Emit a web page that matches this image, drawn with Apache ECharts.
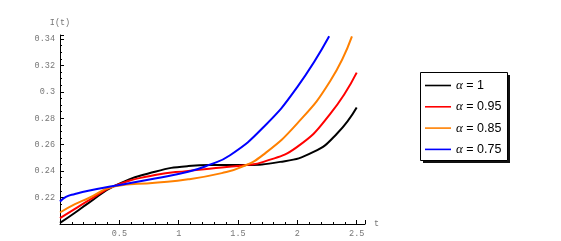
<!DOCTYPE html>
<html>
<head>
<meta charset="utf-8">
<script src="https://cdn.jsdelivr.net/npm/echarts@6/dist/echarts.min.js"></script>
<style>html,body{margin:0;padding:0;background:#fff}#c{width:561px;height:241px}</style>
</head>
<body>
<div id="c"></div>
<script>
// Values: [t, I(t)]
const alpha1 = [[0,0.2008],[0.126,0.2085],[0.239,0.2158],[0.464,0.2290],[0.8,0.2395],[1.08,0.2438],[1.3,0.2446],[1.53,0.2447],[1.855,0.2470],[2.136,0.2545],[2.333,0.2683],[2.5,0.2882]];
const alpha095 = [[0,0.2045],[0.126,0.2115],[0.239,0.2177],[0.464,0.2290],[0.8,0.2370],[1.08,0.2402],[1.363,0.2428],[1.56,0.2445],[1.714,0.2470],[1.996,0.2582],[2.277,0.2833],[2.5,0.3145]];
const alpha085 = [[0,0.2087],[0.126,0.2150],[0.239,0.2195],[0.464,0.2285],[0.8,0.2312],[1.08,0.2338],[1.363,0.2385],[1.532,0.2432],[1.714,0.2525],[1.996,0.2758],[2.277,0.3082],[2.46,0.3420]];
const alpha075 = [[0,0.2170],[0.05,0.2205],[0.126,0.2227],[0.239,0.2252],[0.464,0.2290],[0.8,0.2345],[1.08,0.2395],[1.25,0.2445],[1.433,0.2520],[1.714,0.2732],[1.996,0.3032],[2.268,0.3420]];
const seriesNames = ['α = 1','α = 0.95','α = 0.85','α = 0.75'];
const seriesColors = ['#000000','#ff0000','#ff8000','#0000ff'];
const seriesData = [alpha1, alpha095, alpha085, alpha075];

const chart = echarts.init(document.getElementById('c'), null, {renderer:'canvas'});
const tickFont = {fontFamily:'Liberation Mono', fontSize:8.5, color:'#777'};
chart.setOption({
  animation:false,
  grid:{left:60, right:196, top:35, bottom:17, containLabel:false},
  xAxis:{
    type:'value', min:0, max:2.57, interval:0.5,
    name:'t', nameLocation:'end', nameGap:9,
    nameTextStyle:tickFont,
    axisLine:{show:true, onZero:false, lineStyle:{color:'#000', width:1}},
    axisTick:{show:true, inside:true, length:4, lineStyle:{color:'#000'}},
    minorTick:{show:true, splitNumber:5, length:2, lineStyle:{color:'#000'}},
    splitLine:{show:false},
    axisLabel:Object.assign({showMinLabel:false, showMaxLabel:false, margin:5}, tickFont)
  },
  yAxis:{
    type:'value', min:0.2, max:0.343, interval:0.02,
    name:'I(t)', nameLocation:'end', nameGap:8,
    nameTextStyle:Object.assign({align:'center'}, tickFont),
    axisLine:{show:true, onZero:false, lineStyle:{color:'#000', width:1}},
    axisTick:{show:true, inside:true, length:4, lineStyle:{color:'#000'}},
    minorTick:{show:true, splitNumber:4, length:2, lineStyle:{color:'#000'}},
    splitLine:{show:false},
    axisLabel:Object.assign({showMinLabel:false, showMaxLabel:false, margin:5,
      formatter:v=>String(Math.round(v*100)/100)}, tickFont)
  },
  legend:{
    orient:'vertical', left:425, top:79, padding:0, z:5,
    itemWidth:26, itemHeight:14, itemGap:8.3, itemTextGap:5,
    icon:'path://M0,0H26V1.6H0Z',
    data:seriesNames,
    formatter:n=>'{a|α}{b|'+n.slice(1)+'}',
    textStyle:{fontSize:12, color:'#000',
      rich:{a:{fontFamily:'Liberation Serif', fontStyle:'italic', fontSize:13, color:'#000'},
            b:{fontFamily:'Liberation Sans', fontSize:12.5, color:'#000'}}}
  },
  graphic:[
    {type:'rect', z:0, shape:{x:423, y:75, width:87, height:88}, style:{fill:'#111'}},
    {type:'rect', z:1, shape:{x:420.5, y:72.5, width:87, height:88}, style:{fill:'#fff', stroke:'#000', lineWidth:1}}
  ],
  series:seriesData.map((d,i)=>({
    name:seriesNames[i], type:'line', data:d, smooth:0.5, symbol:'none',
    clip:true,
    lineStyle:{color:seriesColors[i], width:2},
    itemStyle:{color:seriesColors[i]}
  }))
});
</script>
</body>
</html>
